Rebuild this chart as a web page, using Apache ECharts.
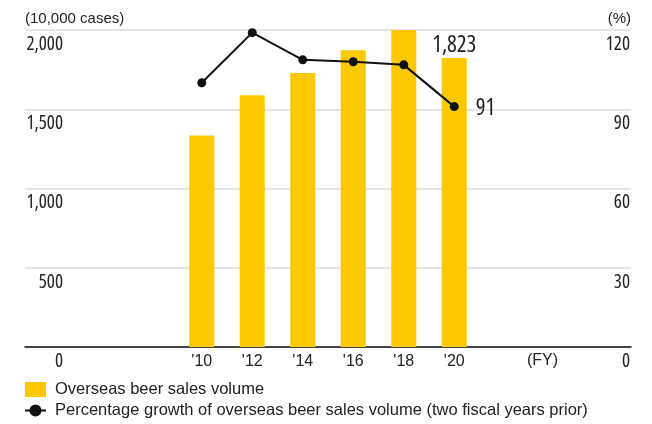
<!DOCTYPE html>
<html>
<head>
<meta charset="utf-8">
<script src="https://cdn.jsdelivr.net/npm/echarts@6/dist/echarts.min.js"></script>
<style>
  html, body { margin: 0; padding: 0; background: #fff; }
  #chart { width: 652px; height: 424px; }
</style>
</head>
<body>
<div id="chart"></div>
<script>
// fiscal years shown, with empty slots either side of them on the axis
var years = ["'10", "'12", "'14", "'16", "'18", "'20"];
var padLeft = 3, padRight = 3;

// overseas beer sales volume (10,000 cases)
var salesVolume = [1335, 1589, 1728, 1873, 2000, 1823];
// growth vs two fiscal years prior (%)
var growthPct = [100, 119, 108.7, 108, 106.8, 91];

var leftTicks = [0, 500, 1000, 1500, 2000];
var rightTicks = [0, 30, 60, 90, 120];

// numbers use a condensed face (stretch goes in through fontWeight)
var numFamily = '"Open Sans"';
var numStretch = 'condensed';
var regular = '"Liberation Sans", Arial, sans-serif';
var yellow = '#FCC800';
var ink = '#222';

function pad(arr, fill) {
    var out = [];
    for (var i = 0; i < padLeft; i++) out.push(fill);
    out = out.concat(arr);
    for (var j = 0; j < padRight; j++) out.push(fill);
    return out;
}

var categories = pad(years, '');
var last = years.length - 1;

var barData = pad(salesVolume.map(function (v, i) {
    if (i !== last) return v;
    return {
        value: v,
        label: {
            show: true, position: 'top', distance: 1,
            fontFamily: numFamily, fontWeight: numStretch, fontSize: 23, color: ink,
            formatter: function (p) { return p.value.toLocaleString('en-US'); }
        }
    };
}), null);

var lineData = pad(growthPct.map(function (v, i) {
    if (i !== last) return v;
    return {
        value: v,
        label: {
            show: true, position: 'right', distance: 17, offset: [0, 2],
            fontFamily: numFamily, fontWeight: numStretch, fontSize: 23, color: ink,
            formatter: function (p) { return Math.round(p.value); }
        }
    };
}), null);

var chart = echarts.init(document.getElementById('chart'), null, { renderer: 'canvas' });

var option = {
    animation: false,
    backgroundColor: '#fff',
    grid: { left: 25, right: 21, top: 30, bottom: 77, containLabel: false },
    legend: {
        orient: 'vertical',
        left: 24,
        top: 381,
        padding: 0,
        itemWidth: 21,
        itemHeight: 15,
        itemGap: 4,
        selectedMode: false,
        textStyle: { fontFamily: regular, fontSize: 16.5, color: ink, padding: [0, 0, 0, 4] },
        data: [
            { name: 'Overseas beer sales volume', icon: 'rect' },
            { name: 'Percentage growth of overseas beer sales volume (two fiscal years prior)' }
        ]
    },
    xAxis: {
        type: 'category',
        data: categories,
        axisLine: { lineStyle: { color: '#111', width: 1.5 } },
        axisTick: { show: false },
        axisLabel: { fontFamily: regular, fontSize: 16, color: ink, margin: 7, interval: 0 }
    },
    yAxis: [
        {
            type: 'value',
            min: leftTicks[0], max: leftTicks[leftTicks.length - 1], interval: leftTicks[1] - leftTicks[0],
            name: '(10,000 cases)',
            nameLocation: 'end',
            nameGap: 11,
            nameTextStyle: { fontFamily: regular, fontSize: 15, color: ink, align: 'left', verticalAlign: 'middle' },
            axisLine: { show: false },
            axisTick: { show: false },
            splitLine: { lineStyle: { color: '#dcdcdc', width: 1.5 } },
            axisLabel: {
                inside: true, margin: 38, align: 'right', verticalAlign: 'top', padding: [5, 0, 0, 0],
                fontFamily: numFamily, fontWeight: numStretch, fontSize: 19, color: ink,
                formatter: function (v) { return v.toLocaleString('en-US'); }
            }
        },
        {
            type: 'value',
            position: 'right',
            min: rightTicks[0], max: rightTicks[rightTicks.length - 1], interval: rightTicks[1] - rightTicks[0],
            name: '(%)',
            nameLocation: 'end',
            nameGap: 11,
            nameTextStyle: { fontFamily: regular, fontSize: 15, color: ink, align: 'right', verticalAlign: 'middle' },
            axisLine: { show: false },
            axisTick: { show: false },
            splitLine: { show: false },
            axisLabel: {
                inside: true, margin: 1, align: 'right', verticalAlign: 'top', padding: [5, 0, 0, 0],
                fontFamily: numFamily, fontWeight: numStretch, fontSize: 19, color: ink
            }
        }
    ],
    graphic: [
        {
            type: 'text', left: 527, top: 353,
            style: { text: '(FY)', font: '16px ' + regular, fill: ink }
        }
    ],
    series: [
        {
            name: 'Overseas beer sales volume',
            type: 'bar',
            yAxisIndex: 0,
            barWidth: 25,
            itemStyle: { color: yellow },
            data: barData
        },
        {
            name: 'Percentage growth of overseas beer sales volume (two fiscal years prior)',
            type: 'line',
            yAxisIndex: 1,
            symbol: 'circle',
            symbolSize: 9,
            lineStyle: { color: '#111', width: 2 },
            itemStyle: { color: '#111' },
            connectNulls: false,
            data: lineData
        }
    ]
};

chart.setOption(option);
</script>
</body>
</html>
